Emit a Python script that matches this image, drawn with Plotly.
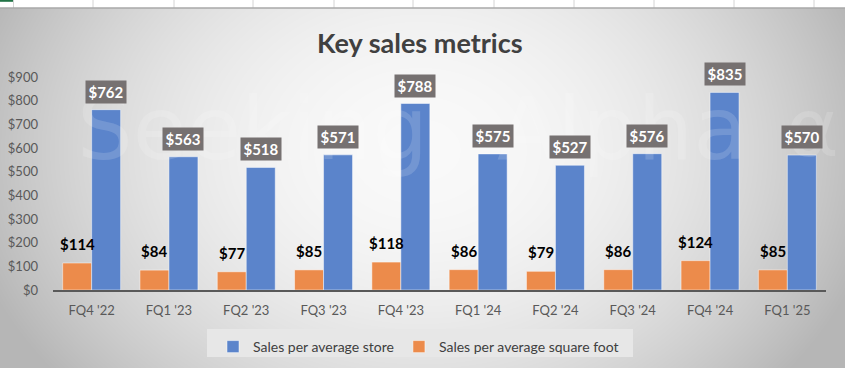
import plotly.graph_objects as go
import zlib, struct, base64

# ---------------- data ----------------
categories = ["FQ4 '22", "FQ1 '23", "FQ2 '23", "FQ3 '23", "FQ4 '23",
              "FQ1 '24", "FQ2 '24", "FQ3 '24", "FQ4 '24", "FQ1 '25"]
sales_per_store = [762, 563, 518, 571, 788, 575, 527, 576, 835, 570]
sales_per_sqft = [114, 84, 77, 85, 118, 86, 79, 86, 124, 85]
y_ticks = [0, 100, 200, 300, 400, 500, 600, 700, 800, 900]
y_tick_labels = ["$" + str(v) for v in y_ticks]

# ---------------- geometry ----------------
W, H = 845, 368
L, R, T, B = 53, 826, 77, 290  # plot area pixels
pw, ph = R - L, B - T


def px_x(p):
    return (p - L) / pw


def px_y(p):
    return (B - p) / ph


# ---------------- background gradient image (styling only) ----------------
def gradient_png(w, h):
    rows = []
    for yy in range(h):
        row = bytearray([0])
        py = 8 + yy
        dy = ((py - 150) / 330.0) ** 2
        for xx in range(w):
            r2 = ((xx - 420) / 425.0) ** 2 + dy
            c = int(round(249 - 56 * min(r2, 1.2)))
            row.append(c)
        rows.append(bytes(row))
    raw = b"".join(rows)

    def chunk(tag, data):
        return (struct.pack(">I", len(data)) + tag + data +
                struct.pack(">I", zlib.crc32(tag + data) & 0xffffffff))
    png = b"\x89PNG\r\n\x1a\n"
    png += chunk(b"IHDR", struct.pack(">IIBBBBB", w, h, 8, 0, 0, 0, 0))
    png += chunk(b"IDAT", zlib.compress(raw, 9))
    png += chunk(b"IEND", b"")
    return "data:image/png;base64," + base64.b64encode(png).decode()


BLUE = "#5B84CB"
ORANGE = "#EC8B4B"
FONT = "Lato, 'Open Sans', sans-serif"

fig = go.Figure()
fig.add_trace(go.Bar(
    x=categories, y=sales_per_sqft, name="Sales per average square foot",
    marker=dict(color=ORANGE, line=dict(color="rgba(255,255,255,0.6)", width=0.8)),
    legendrank=2, hoverinfo="x+y"))
fig.add_trace(go.Bar(
    x=categories, y=sales_per_store, name="Sales per average store",
    marker=dict(color=BLUE, line=dict(color="rgba(255,255,255,0.6)", width=0.8)),
    legendrank=1, hoverinfo="x+y"))

images = [dict(source=gradient_png(W, H - 8), xref="paper", yref="paper",
               x=px_x(0), y=px_y(8), sizex=W / pw, sizey=(H - 8) / ph,
               xanchor="left", yanchor="top", sizing="stretch", layer="below")]

shapes = []
# top spreadsheet strip
for gx in [13.5, 93, 174, 253, 334, 413, 494, 574, 654, 734, 814]:
    shapes.append(dict(type="line", xref="paper", yref="paper", layer="below",
                       x0=px_x(gx), x1=px_x(gx), y0=px_y(0), y1=px_y(8),
                       line=dict(color="#d4d4d4", width=1)))
shapes.append(dict(type="line", xref="paper", yref="paper", layer="below",
                   x0=px_x(0), x1=px_x(W), y0=px_y(8), y1=px_y(8),
                   line=dict(color="#a8a8a8", width=1.5)))
shapes.append(dict(type="line", xref="paper", yref="paper", layer="below",
                   x0=px_x(0), x1=px_x(13), y0=px_y(0.8), y1=px_y(0.8),
                   line=dict(color="#217346", width=2)))
# legend background
shapes.append(dict(type="rect", xref="paper", yref="paper", layer="below",
                   x0=px_x(207), x1=px_x(633), y0=px_y(329), y1=px_y(357),
                   fillcolor="#e7e7e7", line=dict(width=0)))

annotations = []
# watermark
for txt, xc, fs in [("Seeking", 252, 88), ("Alpha", 622, 88), ("\u03b1", 812, 80)]:
    annotations.append(dict(text=txt, xref="paper", yref="paper",
                            x=px_x(xc), y=px_y(128), xanchor="center", yanchor="middle",
                            showarrow=False,
                            font=dict(family="DejaVu Sans", size=fs,
                                      color="rgba(255,255,255,0.15)")))
# title
annotations.append(dict(text="<b>Key sales metrics</b>", xref="paper", yref="paper",
                        x=px_x(420), y=px_y(42), xanchor="center", yanchor="middle",
                        showarrow=False,
                        font=dict(family=FONT, size=27, color="#404040")))
# data labels
for i, (s, q) in enumerate(zip(sales_per_store, sales_per_sqft)):
    annotations.append(dict(text=f"<b>${s}</b>", x=i + 0.1875, y=s, xref="x", yref="y",
                            xanchor="center", yanchor="bottom", yshift=6, showarrow=False,
                            bgcolor="#767171", width=36, height=18, borderpad=2,
                            font=dict(family=FONT, size=15, color="white")))
    annotations.append(dict(text=f"<b>${q}</b>", x=i - 0.1875, y=q, xref="x", yref="y",
                            xanchor="center", yanchor="bottom", yshift=8, showarrow=False,
                            font=dict(family=FONT, size=15, color="black")))

fig.update_layout(
    width=W, height=H,
    margin=dict(l=L, r=W - R, t=T, b=H - B, pad=0, autoexpand=False),
    paper_bgcolor="white", plot_bgcolor="rgba(0,0,0,0)",
    barmode="group", bargap=0.25, bargroupgap=0,
    font=dict(family=FONT, size=13, color="#595959"),
    showlegend=True,
    legend=dict(orientation="h", x=px_x(213), xanchor="left",
                y=px_y(331), yanchor="top", bgcolor="rgba(0,0,0,0)",
                font=dict(family=FONT, size=14, color="#404040"),
                itemwidth=30),
    shapes=shapes, annotations=annotations, images=images,
    xaxis=dict(type="category", showgrid=False, showline=True, linecolor="#595959",
               linewidth=1.5, ticks="", ticklabelstandoff=8,
               tickfont=dict(family=FONT, size=13, color="#595959"), fixedrange=True),
    yaxis=dict(range=[0, 900], tickvals=y_ticks, ticktext=y_tick_labels,
               showgrid=False, zeroline=False, showline=False, ticks="",
               ticklabelstandoff=14,
               tickfont=dict(family=FONT, size=13, color="#595959"), fixedrange=True),
)

fig.write_html("out.html", config={"displayModeBar": False},
               post_script="document.body.style.margin='0px';")
